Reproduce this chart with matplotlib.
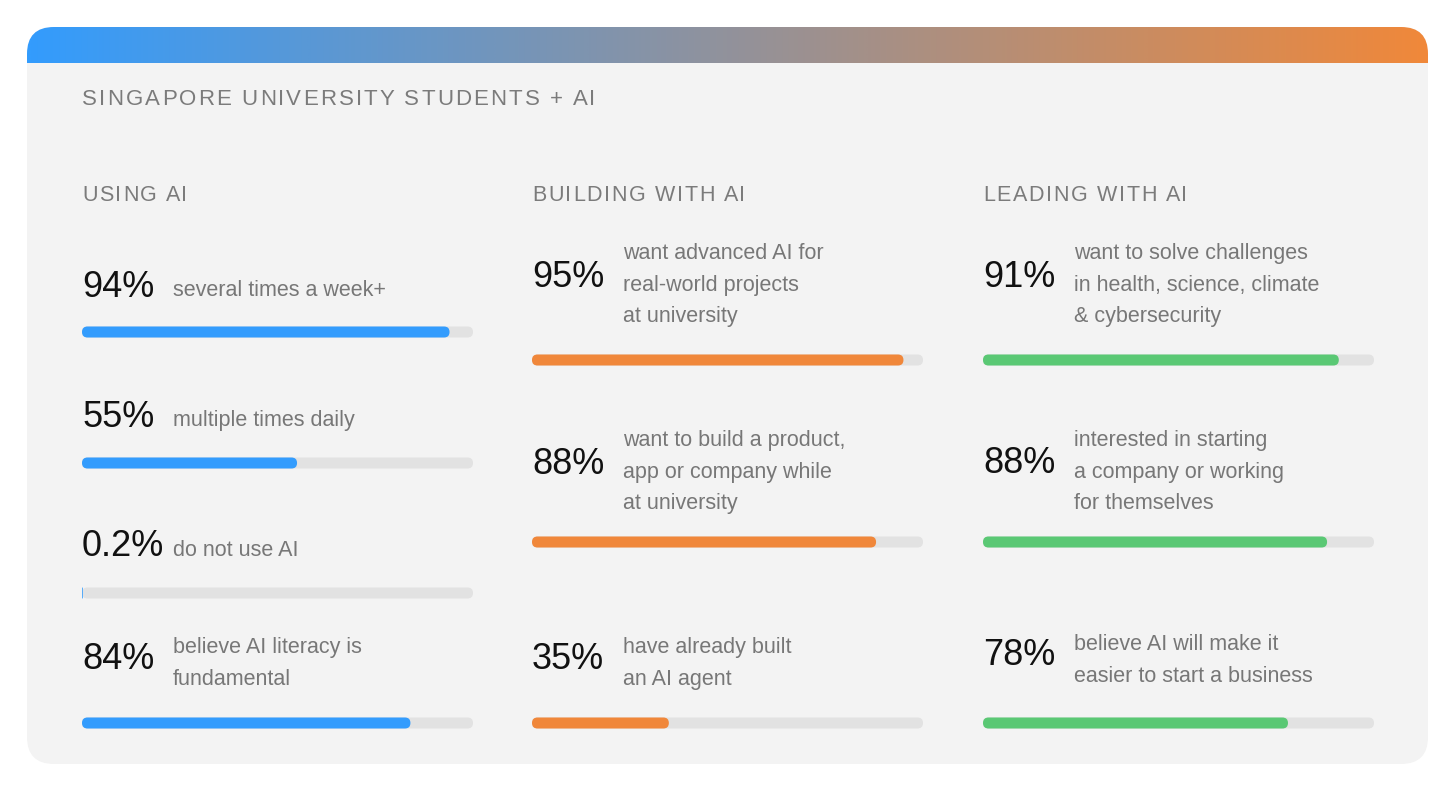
import numpy as np
import matplotlib
matplotlib.use("Agg")
import matplotlib.pyplot as plt
from matplotlib.patches import FancyBboxPatch
from matplotlib.font_manager import FontProperties
from matplotlib.colors import LinearSegmentedColormap

# data
title = "SINGAPORE UNIVERSITY STUDENTS + AI"
sections = ["USING AI", "BUILDING WITH AI", "LEADING WITH AI"]

using_values = [94, 55, 0.2, 84]
using_pct = ["94%", "55%", "0.2%", "84%"]
using_text = [["several times a week+"],
              ["multiple times daily"],
              ["do not use AI"],
              ["believe AI literacy is", "fundamental"]]

building_values = [95, 88, 35]
building_pct = ["95%", "88%", "35%"]
building_text = [["want advanced AI for", "real-world projects", "at university"],
                 ["want to build a product,", "app or company while", "at university"],
                 ["have already built", "an AI agent"]]

leading_values = [91, 88, 78]
leading_pct = ["91%", "88%", "78%"]
leading_text = [["want to solve challenges", "in health, science, climate", "& cybersecurity"],
                ["interested in starting", "a company or working", "for themselves"],
                ["believe AI will make it", "easier to start a business"]]

colours = ["#339cfd", "#f0873a", "#5ac874"]

# layout (pixels)
W, H = 1456, 792
col_x = [82, 532, 983]
text_dx = 91
track_w = 391
bar_h = 11
# per item: (pct baseline, first label baseline, bar centre)
layout = [
    [(297, 296, 332), (427, 426, 463), (556, 556, 593), (669, 653, 723)],
    [(287, 259, 360), (474, 446, 542), (669, 653, 723)],
    [(287, 259, 360), (473, 446, 542), (665, 650, 723)],
]
heading_w = [105, 213, 204]
line_gap = 31.7

FONT = "Liberation Sans"

fig = plt.figure(figsize=(W / 100, H / 100), dpi=100)
fig.patch.set_facecolor("white")
ax = fig.add_axes([0, 0, 1, 1])
ax.set_xlim(0, W)
ax.set_ylim(H, 0)
ax.axis("off")

# card
card = FancyBboxPatch((27, 27), 1401, 737, boxstyle="round,pad=0,rounding_size=27",
                      fc="#f3f3f3", ec="none", zorder=1)
ax.add_patch(card)

# gradient header
cmap = LinearSegmentedColormap.from_list("hdr", ["#339cfd", "#f0883a"])
grad = np.linspace(0, 1, 512)[None, :]
clip = FancyBboxPatch((27, 27), 1401, 90, boxstyle="round,pad=0,rounding_size=27",
                      fc="none", ec="none")
ax.add_patch(clip)
im = ax.imshow(grad, cmap=cmap, extent=[27, 1428, 63.5, 27], aspect="auto",
               interpolation="bilinear", zorder=2)
im.set_clip_path(clip)
ax.set_xlim(0, W)
ax.set_ylim(H, 0)

renderer = fig.canvas.get_renderer()


def ink_width(s, fp):
    t = ax.text(0, 0, s, fontproperties=fp)
    w = t.get_window_extent(renderer=renderer).width
    t.remove()
    return w


def tracked_text(x, y, s, size, width, color):
    fp = FontProperties(family=FONT, size=size)
    natural = ink_width(s, fp)
    track = (width - natural) / (len(s) - 1)
    lw = ink_width("l", fp)
    for i, ch in enumerate(s):
        if ch == " ":
            continue
        off = ink_width(s[:i] + "l", fp) - lw if i > 0 else 0
        ax.text(x + off + i * track, y, ch, fontproperties=fp, color=color,
                va="baseline", ha="left", zorder=5)


tracked_text(82, 105, title, 16, 513, "#7b7b7b")

columns = [(using_values, using_pct, using_text),
           (building_values, building_pct, building_text),
           (leading_values, leading_pct, leading_text)]

for c, (vals, pcts, texts) in enumerate(columns):
    x0 = col_x[c]
    tracked_text(x0, 201, sections[c], 15.5, heading_w[c], "#7b7b7b")

    # bars on their own 0-100 axis
    bax = fig.add_axes([x0 / W, 0, track_w / W, 1])
    bax.set_xlim(0, 100)
    bax.set_ylim(H, 0)
    bax.axis("off")
    sx = track_w / 100.0
    r = bar_h / 2 / sx

    for i, v in enumerate(vals):
        pb, lb, by = layout[c][i]
        ax.text(x0, pb, pcts[i], family=FONT, size=26, color="#111111",
                va="baseline", ha="left", zorder=5)
        for j, line in enumerate(texts[i]):
            ax.text(x0 + text_dx, lb + j * line_gap, line, family=FONT, size=15.5,
                    color="#777777", va="baseline", ha="left", zorder=5)
        bax.add_patch(FancyBboxPatch((0, by - bar_h / 2), 100, bar_h,
                                     boxstyle=f"round,pad=0,rounding_size={r}",
                                     mutation_aspect=sx, fc="#e2e2e2", ec="none"))
        bax.add_patch(FancyBboxPatch((0, by - bar_h / 2), v, bar_h,
                                     boxstyle=f"round,pad=0,rounding_size={min(r, v / 2)}",
                                     mutation_aspect=sx, fc=colours[c], ec="none"))

fig.savefig("out.png", dpi=100, facecolor="white")
